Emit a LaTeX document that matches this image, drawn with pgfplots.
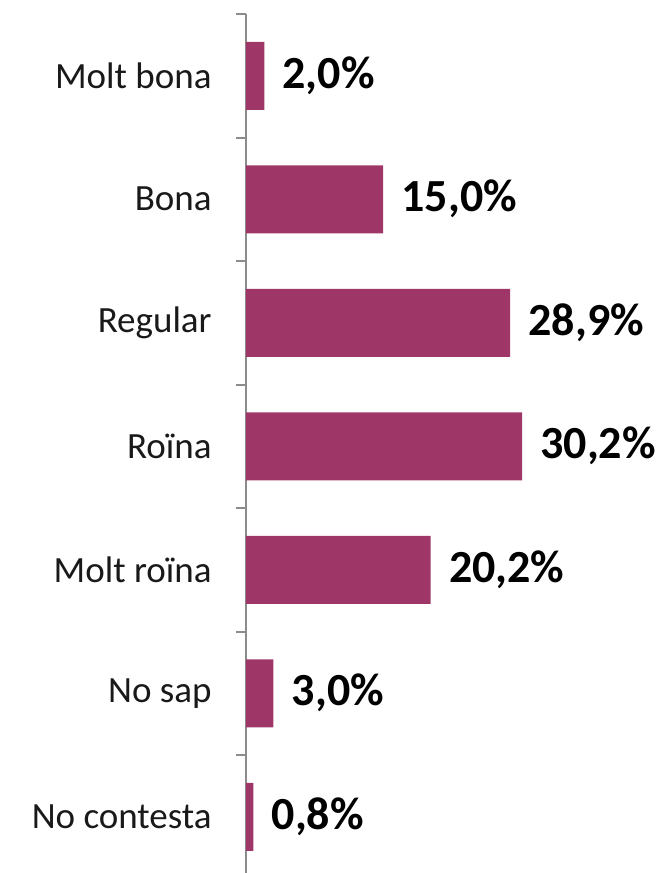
\documentclass[border=0pt]{standalone}
\usepackage{pgfplots}
\pgfplotsset{compat=1.18}
\usepackage{fontspec}
\setmainfont{Carlito}
\definecolor{barcol}{HTML}{9E3768}
\definecolor{axcol}{HTML}{8C8C8C}
\begin{document}
\begin{tikzpicture}
\begin{axis}[
    name=ax,
    scale only axis,
    width=209pt,
    height=432.25pt,
    xbar,
    bar width=34pt,
    xmin=0, xmax=45.73,
    ymin=-0.5, ymax=6.5,
    y dir=reverse,
    enlarge y limits=false,
    axis x line=none,
    axis y line*=left,
    y axis line style={axcol, line width=1pt},
    ytick={0,...,6},
    yticklabels={Molt bona, Bona, Regular, Roïna, Molt roïna, No sap, No contesta},
    major tick length=0pt,
    minor ytick={-0.5,0.5,...,6.5},
    minor tick length=5pt,
    tick align=outside,
    ytick pos=left,
    minor tick style={axcol, line width=1pt},
    yticklabel style={font=\fontsize{18.5}{22}\selectfont, color=black!90, inner sep=0pt, xshift=-17pt},
    nodes near coords={\pgfmathprintnumber[fixed,fixed zerofill,precision=1,use comma,assume math mode=true]{\pgfplotspointmeta}\%},
    nodes near coords style={font=\fontsize{23}{27}\selectfont\bfseries, anchor=west, inner sep=0pt, xshift=9pt, black},
    point meta=explicit,
    clip=false,
]
\addplot[fill=barcol, draw=none] coordinates {
    (2.0,0) [2.0]
    (15.0,1) [15.0]
    (28.9,2) [28.9]
    (30.2,3) [30.2]
    (20.2,4) [20.2]
    (3.0,5) [3.0]
    (0.8,6) [0.8]
};
\end{axis}
\pgfresetboundingbox
\path[use as bounding box] ([shift={(-123pt,7pt)}]ax.north west) rectangle ([shift={(209pt,-429.5pt)}]ax.north west);
\end{tikzpicture}
\end{document}
